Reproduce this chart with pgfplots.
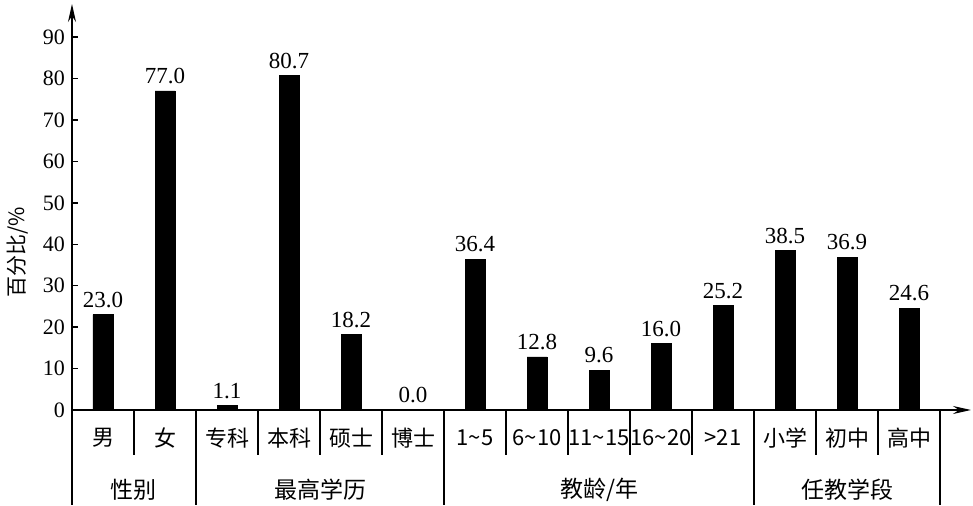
\documentclass[border=0pt]{standalone}
\usepackage{fontspec}
\setmainfont{Liberation Serif}
\newfontfamily\cjk{Noto Sans CJK SC}
\usepackage{pgfplots}
\pgfplotsset{compat=1.18}
\usetikzlibrary{arrows.meta}

\begin{document}
\begin{tikzpicture}
\begin{axis}[
    scale only axis,
    width=449.5pt, height=203pt,
    xmin=-0.5, xmax=14, ymin=0, ymax=98,
    axis lines=left,
    axis line style={line width=0.75pt, -{Stealth[length=9pt,width=4pt]}},
    ybar, bar width=10pt,
    ytick={0,10,...,90},
    ytick pos=left,
    y tick style={line width=0.7pt, black},
    major tick length=3pt,
    tick align=inside,
    xtick={0,...,13},
    xticklabels={男,女,专科,本科,硕士,博士,
      1\textasciitilde5,6\textasciitilde10,11\textasciitilde15,16\textasciitilde20,>21,
      小学,初中,高中},
    x tick style={draw=none},
    xticklabel style={anchor=center, yshift=-14pt, font=\cjk\fontsize{11}{13}\selectfont},
    yticklabel style={font=\fontsize{11}{13}\selectfont},
    /pgf/number format/assume math mode=true,
    point meta=explicit symbolic,
    nodes near coords,
    every node near coord/.append style={font=\fontsize{11.5}{13}\selectfont, black},
    clip=false,
  ]
  \addplot[fill=black, draw=black] coordinates {
    (0,23.0) [23.0]
    (1,77.0) [77.0]
    (2,1.1) [1.1]
    (3,80.7) [80.7]
    (4,18.2) [18.2]
    (5,0.0) [0.0]
    (6,36.4) [36.4]
    (7,12.8) [12.8]
    (8,9.6) [9.6]
    (9,16.0) [16.0]
    (10,25.2) [25.2]
    (11,38.5) [38.5]
    (12,36.9) [36.9]
    (13,24.6) [24.6]
  };
  % separators between categories
  \pgfplotsinvokeforeach{0.5,2.5,3.5,4.5,6.5,7.5,8.5,9.5,11.5,12.5}{
    \draw[line width=0.7pt] (axis cs:#1,0) -- ([yshift=-22.5pt]axis cs:#1,0);
  }
  \pgfplotsinvokeforeach{-0.5,1.5,5.5,10.5,13.5}{
    \draw[line width=0.7pt] (axis cs:#1,0) -- ([yshift=-47.5pt]axis cs:#1,0);
  }
  \node[font=\cjk\fontsize{11.5}{13}\selectfont] at ([yshift=-40pt]axis cs:0.5,0) {性别};
  \node[font=\cjk\fontsize{11.5}{13}\selectfont] at ([yshift=-40pt]axis cs:3.5,0) {最高学历};
  \node[font=\cjk\fontsize{11.5}{13}\selectfont] at ([yshift=-40pt]axis cs:8,0) {教龄/年};
  \node[font=\cjk\fontsize{11.5}{13}\selectfont] at ([yshift=-40pt]axis cs:12,0) {任教学段};
  \node[font=\cjk\fontsize{10.5}{12}\selectfont, rotate=90] at ([xshift=-27pt]axis cs:-0.5,38) {百分比/\%};
  \coordinate (o) at (axis cs:-0.5,0);
\end{axis}
\pgfresetboundingbox
\path ([xshift=-36pt,yshift=-48pt]o) rectangle ([xshift=450.5pt,yshift=205pt]o);
\end{tikzpicture}
\end{document}
